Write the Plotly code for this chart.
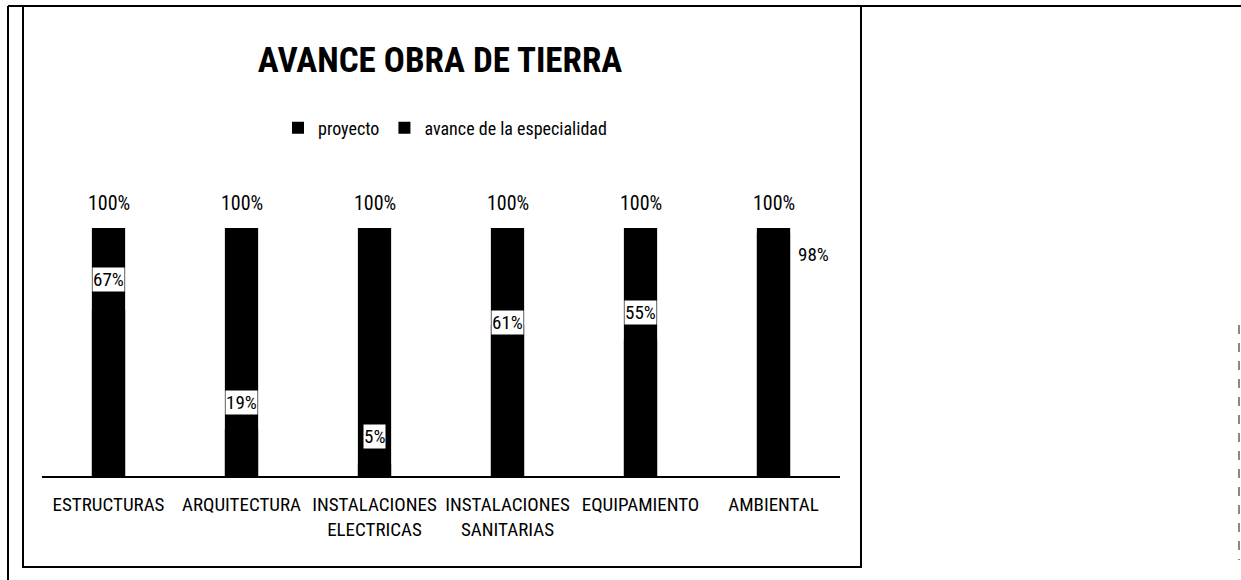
import plotly.graph_objects as go

categories = ["ESTRUCTURAS", "ARQUITECTURA", "INSTALACIONES<br>ELECTRICAS",
              "INSTALACIONES<br>SANITARIAS", "EQUIPAMIENTO", "AMBIENTAL"]
proyecto = [1.00, 1.00, 1.00, 1.00, 1.00, 1.00]
avance = [0.67, 0.19, 0.05, 0.61, 0.55, 0.98]
proyecto_labels = ["100%", "100%", "100%", "100%", "100%", "100%"]
avance_labels = ["67%", "19%", "5%", "61%", "55%", "98%"]

# label placement tweaks (pixels) to mimic the manually moved labels
avance_yshift = [30, 26, 27, 2, 27, -22]
avance_xshift = [0, 0, 0, 0, 0, 40]
avance_bg = ["white", "white", "white", "white", "white", "rgba(0,0,0,0)"]

FONT = "Liberation Sans Narrow, Roboto Condensed, Arial Narrow, Liberation Sans, sans-serif"

W, H = 1241, 580
L, R, T, B = 42, 1241 - 840, 228, 580 - 476

fig = go.Figure()
fig.add_trace(go.Bar(x=categories, y=proyecto, name="proyecto",
                     marker=dict(color="black", line=dict(width=0)), width=0.25))
fig.add_trace(go.Bar(x=categories, y=avance, name="avance de la especialidad",
                     marker=dict(color="black", line=dict(width=0)), width=0.25))

annotations = []
for c, v, t in zip(categories, proyecto, proyecto_labels):
    annotations.append(dict(x=c, y=v, xref="x", yref="y", text=t, showarrow=False,
                            yanchor="middle", yshift=25,
                            font=dict(family=FONT, size=20, color="black")))
for c, v, t, ys, xs, bg in zip(categories, avance, avance_labels,
                               avance_yshift, avance_xshift, avance_bg):
    annotations.append(dict(x=c, y=v, xref="x", yref="y", text=t, showarrow=False,
                            yanchor="middle", yshift=ys, xshift=xs,
                            bgcolor=bg, borderpad=0,
                            font=dict(family=FONT, size=19, color="black")))

pw = 840 - 42
ph = 476 - 228


def px_x(px):
    return (px - L) / pw


def px_y(py):
    return (476 - py) / ph


shapes = [
    # chart border
    dict(type="rect", xref="paper", yref="paper",
         x0=px_x(23), x1=px_x(861), y0=px_y(567), y1=px_y(6),
         line=dict(color="black", width=2), fillcolor="rgba(0,0,0,0)", layer="below"),
    # page top line
    dict(type="line", xref="paper", yref="paper",
         x0=px_x(8), x1=px_x(1241), y0=px_y(6), y1=px_y(6),
         line=dict(color="black", width=2)),
    # page left line
    dict(type="line", xref="paper", yref="paper",
         x0=px_x(8), x1=px_x(8), y0=px_y(6), y1=px_y(580),
         line=dict(color="black", width=2)),
    # faint dashed right edge
    dict(type="line", xref="paper", yref="paper",
         x0=px_x(1239), x1=px_x(1239), y0=px_y(325), y1=px_y(560),
         line=dict(color="#888888", width=2, dash="dash")),
]

fig.update_layout(
    width=W, height=H,
    margin=dict(l=L, r=R, t=T, b=B, autoexpand=False),
    paper_bgcolor="white", plot_bgcolor="white",
    barmode="overlay",
    title=dict(text="<b>AVANCE OBRA DE TIERRA</b>", x=px_x(440), xref="paper",
               y=1 - 60 / H, yanchor="middle", xanchor="center",
               font=dict(family=FONT, size=35, color="black")),
    legend=dict(orientation="h", x=px_x(445), xanchor="center", xref="paper",
                y=px_y(128), yanchor="middle", yref="paper",
                font=dict(family=FONT, size=18, color="black"),
                itemwidth=30, traceorder="normal"),
    xaxis=dict(showline=True, linecolor="black", linewidth=2, ticks="",
               tickangle=0, automargin=False,
               tickfont=dict(family=FONT, size=19, color="black"),
               ticklabelstandoff=10, showgrid=False),
    yaxis=dict(range=[0, 1], visible=False, showgrid=False, automargin=False),
    annotations=annotations,
    shapes=shapes,
    font=dict(family=FONT, color="black"),
)

fig.write_html("out.html", config={"displayModeBar": False},
               post_script="document.body.style.margin='0px';document.body.style.overflow='hidden';")
